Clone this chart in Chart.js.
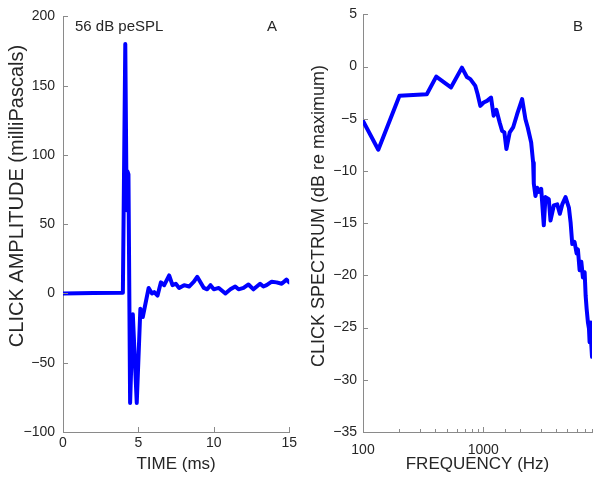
<!DOCTYPE html>
<html>
<head>
<meta charset="utf-8">
<script src="https://cdn.jsdelivr.net/npm/chart.js@4/dist/chart.umd.min.js"></script>
<style>
  html,body{margin:0;padding:0;background:#fff;}
  #wrap{position:relative;width:602px;height:484px;overflow:hidden;}
  canvas{position:absolute;top:0;}
  #cA{left:0;}
  #cB{left:300px;}
</style>
</head>
<body>
<div id="wrap">
  <canvas id="cA" width="300" height="484"></canvas>
  <canvas id="cB" width="302" height="484"></canvas>
</div>
<script>
// panel A: click waveform
const timeMs = [0, 2, 3.97, 4.13, 4.22, 4.28, 4.34, 4.45, 4.63, 4.89, 5.13, 5.29, 5.68, 5.9, 6.05, 6.27, 6.49, 6.71, 7.04, 7.26, 7.48, 7.7, 8.03, 8.36, 8.68, 8.9, 9.34, 9.56, 9.78, 10.0, 10.33, 10.77, 11.1, 11.42, 11.64, 11.97, 12.3, 12.63, 13.07, 13.29, 13.5, 13.84, 14.16, 14.5, 14.82, 15.0];
const amplitude = [0, 0.3, 0.5, 180, 60, 88, 86, -79, -15, -79, -11, -17, 4, 0, 1, -1.5, 8, 6, 13, 6, 7, 4, 6, 5, 8.5, 12, 4, 3, 6, 3, 4, 0, 3, 5, 3, 4, 6.5, 3, 7, 5, 6, 8.5, 8, 7, 10, 8];
const ampTicks = [-100, -50, 0, 50, 100, 150, 200];
const timeTicks = [0, 5, 10, 15];

// panel B: click spectrum
const freqHz = [100, 134, 201, 339, 406, 538, 664, 730, 780, 858, 897, 944, 1006, 1073, 1159, 1218, 1283, 1367, 1431, 1496, 1555, 1657, 1768, 1909, 2101, 2239, 2339, 2498, 2594, 2626, 2712, 2803, 2890, 3026, 3180, 3286, 3500, 3615, 3853, 4113, 4325, 4527, 4822, 5140, 5310, 5484, 5730, 5960, 6110, 6310, 6520, 6724, 6950, 7080, 7220, 7400, 7550, 7640, 7800, 7900, 8000];
const spectrumDb = [-5.2, -7.96, -2.8, -2.65, -0.96, -2.0, -0.1, -1.0, -1.2, -1.85, -2.65, -3.76, -3.44, -3.28, -2.96, -4.7, -4.14, -5.35, -6.15, -6.3, -7.9, -6.3, -5.83, -4.56, -3.12, -5.04, -5.83, -7.27, -9.2, -11.2, -12.4, -11.6, -12.0, -11.7, -15.2, -12.5, -12.7, -14.75, -13.3, -13.2, -14.1, -13.2, -12.5, -13.5, -14.9, -17.0, -16.8, -17.9, -17.5, -19.5, -18.7, -20.2, -19.7, -21.9, -23.2, -24.5, -25.1, -26.4, -24.5, -26.7, -27.8];
const dbTicks = [-35, -30, -25, -20, -15, -10, -5, 0, 5];
const freqLabels = [100, 1000];

const FONT = "'Liberation Sans', Arial, sans-serif";
const axisColor = '#8a8a8a';
const textColor = '#262626';
const lineBlue = '#0000ff';

const minus = v => String(v).replace('-', '\u2212');

// MATLAB style ticks pointing into the plot
const innerTicks = {
  id: 'innerTicks',
  afterDraw(chart){
    const {ctx, chartArea: a, scales} = chart;
    ctx.save();
    ctx.strokeStyle = axisColor;
    ctx.lineWidth = 1;
    ctx.beginPath();
    scales.x.ticks.forEach(t=>{
      const px = Math.round(scales.x.getPixelForValue(t.value)) + 0.5;
      const major = scales.x.type !== 'logarithmic' || Number.isInteger(Math.log10(t.value));
      const len = major ? 5 : 3;
      ctx.moveTo(px, a.bottom); ctx.lineTo(px, a.bottom - len);
    });
    scales.y.ticks.forEach(t=>{
      const py = Math.round(scales.y.getPixelForValue(t.value)) + 0.5;
      ctx.moveTo(a.left, py); ctx.lineTo(a.left + 5, py);
    });
    ctx.stroke();
    ctx.restore();
  }
};

// panel letters, level note and the rotated y title
const notes = {
  id: 'notes',
  afterDraw(chart, args, opts){
    const ctx = chart.ctx;
    ctx.save();
    ctx.fillStyle = textColor;
    ctx.font = '15px ' + FONT;
    ctx.textBaseline = 'middle';
    (opts.items || []).forEach(n=>{
      ctx.textAlign = n.align;
      ctx.fillText(n.text, n.x, n.y);
    });
    const yt = opts.yTitle;
    if(yt){
      ctx.font = yt.size + 'px ' + FONT;
      ctx.textAlign = 'center';
      ctx.translate(yt.x, yt.y);
      ctx.rotate(-Math.PI/2);
      ctx.fillText(yt.text, 0, 0);
    }
    ctx.restore();
  }
};

function makeOptions(cfg){
  return {
    responsive: false,
    animation: false,
    layout: { padding: { top: 12, right: cfg.padRight, left: 0, bottom: 0 } },
    plugins: {
      legend: { display: false },
      tooltip: { enabled: false },
      notes: { items: cfg.notes, yTitle: cfg.yTitle }
    },
    scales: {
      x: {
        type: cfg.xType,
        min: cfg.xMin, max: cfg.xMax,
        afterFit: s => { s.height = 52; },
        afterBuildTicks: cfg.xTicks ? s => { s.ticks = cfg.xTicks.map(v=>({value:v})); } : undefined,
        border: { display: true, color: axisColor, width: 1 },
        grid: { display: true, drawOnChartArea: false, drawTicks: false },
        ticks: {
          autoSkip: false, maxRotation: 0, padding: cfg.xPad,
          color: textColor, font: { family: FONT, size: 14 },
          callback: cfg.xCallback
        },
        title: {
          display: true, text: cfg.xTitle, color: textColor,
          font: { family: FONT, size: 17 }, padding: { top: 0, bottom: 9 }
        }
      },
      y: {
        min: cfg.yMin, max: cfg.yMax,
        afterFit: s => { s.width = 63; },
        afterBuildTicks: s => { s.ticks = cfg.yTicks.map(v=>({value:v})); },
        border: { display: true, color: axisColor, width: 1 },
        grid: { display: true, drawOnChartArea: false, drawTicks: false },
        ticks: {
          padding: cfg.yPad, color: textColor, font: { family: FONT, size: 14 },
          callback: v => minus(v)
        },
        title: { display: false }
      }
    }
  };
}

const lineStyle = {
  borderColor: lineBlue, borderWidth: 4, pointRadius: 0, tension: 0, fill: false,
  borderJoinStyle: 'round', borderCapStyle: 'round'
};

new Chart(document.getElementById('cA'), {
  type: 'line',
  data: {
    datasets: [Object.assign({ data: timeMs.map((t,i)=>({x:t, y:amplitude[i]})) }, lineStyle)]
  },
  options: makeOptions({
    padRight: 9, xType: 'linear', xMin: 0, xMax: 15, xTicks: timeTicks, xPad: 3,
    xCallback: v => minus(v), xTitle: 'TIME (ms)',
    yMin: -100, yMax: 200, yTicks: ampTicks, yPad: 8,
    yTitle: { text: 'CLICK AMPLITUDE (milliPascals)', size: 20, x: 17, y: 196 },
    notes: [
      { text: '56 dB peSPL', x: 75, y: 27, align: 'left' },
      { text: 'A', x: 272, y: 27, align: 'center' }
    ]
  }),
  plugins: [innerTicks, notes]
});

new Chart(document.getElementById('cB'), {
  type: 'line',
  data: {
    datasets: [Object.assign({ data: freqHz.map((f,i)=>({x:f, y:spectrumDb[i]})) }, lineStyle)]
  },
  options: makeOptions({
    padRight: 10, xType: 'logarithmic', xMin: 100, xMax: 8000, xTicks: null, xPad: 10,
    xCallback: v => freqLabels.includes(v) ? String(v) : '',
    xTitle: 'FREQUENCY (Hz)',
    yMin: -35, yMax: 5, yTicks: dbTicks, yPad: 6,
    yTitle: { text: 'CLICK SPECTRUM (dB re maximum)', size: 18, x: 19, y: 216 },
    notes: [
      { text: 'B', x: 278, y: 27, align: 'center' }
    ]
  }),
  plugins: [innerTicks, notes]
});
</script>
</body>
</html>
